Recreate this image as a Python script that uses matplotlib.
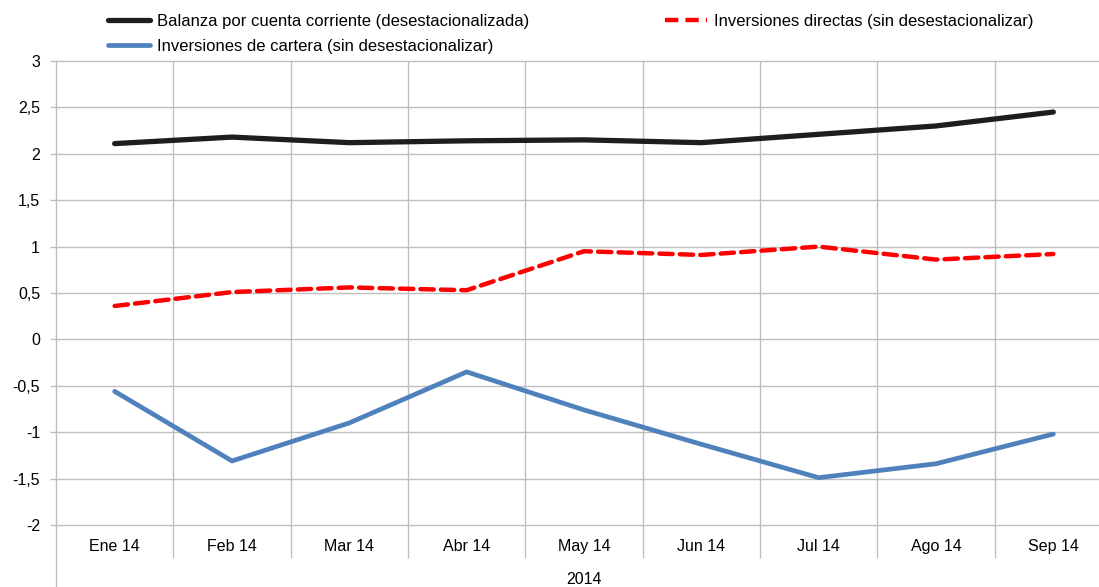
import numpy as np
import matplotlib
matplotlib.use('Agg')
import matplotlib.pyplot as plt
from matplotlib.lines import Line2D
import matplotlib.transforms as mtransforms

plt.rcParams['font.family'] = ['Liberation Sans', 'DejaVu Sans']

meses = ['Ene 14', 'Feb 14', 'Mar 14', 'Abr 14', 'May 14', 'Jun 14', 'Jul 14', 'Ago 14', 'Sep 14']
anio = '2014'

balanza = [2.11, 2.18, 2.12, 2.14, 2.15, 2.12, 2.21, 2.30, 2.45]
directas = [0.36, 0.51, 0.56, 0.53, 0.95, 0.91, 1.00, 0.86, 0.92]
cartera = [-0.56, -1.31, -0.90, -0.35, -0.76, -1.13, -1.49, -1.34, -1.02]

lbl_balanza = 'Balanza por cuenta corriente (desestacionalizada)'
lbl_directas = 'Inversiones directas (sin desestacionalizar)'
lbl_cartera = 'Inversiones de cartera (sin desestacionalizar)'

yticks = [-2, -1.5, -1, -0.5, 0, 0.5, 1, 1.5, 2, 2.5, 3]
ytick_labels = ['-2', '-1,5', '-1', '-0,5', '0', '0,5', '1', '1,5', '2', '2,5', '3']

W, H = 1099, 587
fig = plt.figure(figsize=(W/100, H/100), dpi=100)

# plot area in pixels: left 56, right 1112 (cut by the image edge), top 61, bottom 525
x0, x1, y0, y1 = 56, 1112, 61, 525
ax = fig.add_axes([x0/W, 1-y1/H, (x1-x0)/W, (y1-y0)/H])

grid_c = '#bfbfbf'
x = np.arange(len(meses)) + 0.5

ax.plot(x, balanza, color='#1e1e1e', lw=3.8, solid_capstyle='round', solid_joinstyle='round', zorder=3)
ax.plot(x, directas, color='#ff0000', lw=3.2, dashes=(3.0, 1.6), dash_capstyle='round', zorder=3)
ax.plot(x, cartera, color='#4f81bd', lw=3.4, solid_capstyle='round', solid_joinstyle='round', zorder=3)

ax.set_xlim(0, len(meses))
ax.set_ylim(-2, 3)

ax.set_yticks(yticks)
ax.set_yticklabels(ytick_labels)
ax.tick_params(axis='y', length=4.5, width=1, color=grid_c, pad=7, labelsize=11.5)

ax.set_xticks(x)
ax.set_xticklabels(meses)
ax.set_xticks(np.arange(1, len(meses)), minor=True)
ax.tick_params(axis='x', which='major', length=0, pad=10, labelsize=11.5)
ax.tick_params(axis='x', which='minor', length=24, width=1, color=grid_c, direction='out')

ax.grid(axis='y', which='major', color=grid_c, lw=1)
ax.grid(axis='x', which='minor', color=grid_c, lw=1)
for gl in ax.get_ygridlines():
    gl.set_clip_on(False)

for s in ['top', 'right', 'bottom']:
    ax.spines[s].set_visible(False)
ax.spines['left'].set_color(grid_c)
ax.spines['left'].set_linewidth(1)

# left axis line runs down through the category band
fig.add_artist(Line2D([x0/W, x0/W], [0, 1-y1/H], color=grid_c, lw=1))

trans = mtransforms.blended_transform_factory(ax.transData, fig.transFigure)
ax.text(len(meses)/2, 1-580/H, anio, transform=trans, ha='center', va='center', fontsize=11.5)

handles = [Line2D([], [], color='#1e1e1e', lw=3.8, solid_capstyle='round'),
           Line2D([], [], color='#4f81bd', lw=3.4, solid_capstyle='round'),
           Line2D([], [], color='#ff0000', lw=3.2, dashes=(3.0, 1.6))]
fig.legend(handles, [lbl_balanza, lbl_cartera, lbl_directas], ncol=2,
           loc='upper left', bbox_to_anchor=(108/W, 1-14/H), frameon=False,
           fontsize=12, handlelength=2.5, handletextpad=0.45, labelspacing=0.6,
           columnspacing=8.15, borderpad=0, borderaxespad=0)

fig.savefig('out.png', dpi=100)
